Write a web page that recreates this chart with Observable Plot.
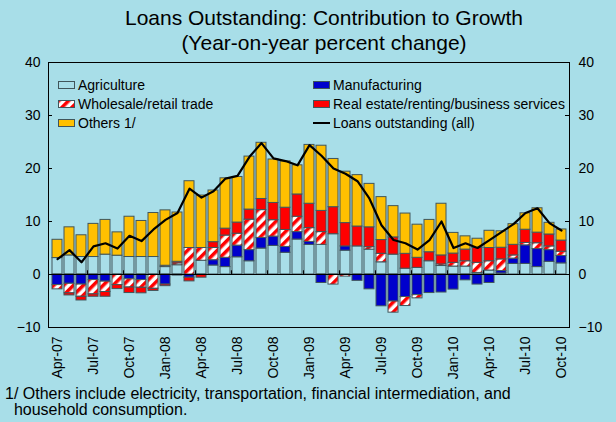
<!DOCTYPE html>
<html><head><meta charset="utf-8">
<script src="https://cdn.jsdelivr.net/npm/d3@7"></script>
<script src="https://cdn.jsdelivr.net/npm/@observablehq/plot@0.6"></script>
<style>
body{margin:0;background:#a8dee8;}
#wrap{position:relative;width:616px;height:422px;background:#a8dee8;font-family:"Liberation Sans",Arial,sans-serif;overflow:hidden;color:#000;}
#title{position:absolute;left:16px;top:5px;width:616px;text-align:center;font-size:21px;line-height:25px;z-index:2;}
#chart{position:absolute;left:0;top:0;}
.leg{position:absolute;font-size:14px;line-height:18px;height:18px;white-space:nowrap;display:flex;align-items:center;z-index:2;}
.leg svg{margin-right:2px;}
#note{position:absolute;left:5px;top:386px;font-size:16px;line-height:16px;z-index:2;white-space:nowrap;}
</style></head>
<body>
<svg width="0" height="0" style="position:absolute">
  <defs>
    <pattern id="hatch" patternUnits="userSpaceOnUse" width="7" height="7" patternTransform="rotate(45)">
      <rect width="7" height="7" fill="#ffffff"></rect>
      <rect width="3.5" height="7" fill="#ff0000"></rect>
    </pattern>
  </defs>
</svg>
<div id="wrap">
  <div id="title">Loans Outstanding: Contribution to Growth<br>(Year-on-year percent change)</div>
  <div id="chart"></div>
  <div id="legend"></div>
  <div id="note">1/ Others include electricity, transportation, financial intermediation, and<br>&nbsp;&nbsp;household consumption.</div>
</div>
<script>
const months = ["Apr-07","May-07","Jun-07","Jul-07","Aug-07","Sep-07","Oct-07","Nov-07","Dec-07",
  "Jan-08","Feb-08","Mar-08","Apr-08","May-08","Jun-08","Jul-08","Aug-08","Sep-08","Oct-08","Nov-08","Dec-08",
  "Jan-09","Feb-09","Mar-09","Apr-09","May-09","Jun-09","Jul-09","Aug-09","Sep-09","Oct-09","Nov-09","Dec-09",
  "Jan-10","Feb-10","Mar-10","Apr-10","May-10","Jun-10","Jul-10","Aug-10","Sep-10","Oct-10"];
const labelMonths = ["Apr-07","Jul-07","Oct-07","Jan-08","Apr-08","Jul-08","Oct-08","Jan-09","Apr-09","Jul-09","Oct-09","Jan-10","Apr-10","Jul-10","Oct-10"];
const tickMonths = ["Jul-07","Oct-07","Jan-08","Apr-08","Jul-08","Oct-08","Jan-09","Apr-09","Jul-09","Oct-09","Jan-10","Apr-10","Jul-10","Oct-10"];
const yTicks = [-10, 0, 10, 20, 30, 40];
const seriesNames = ["Agriculture","Manufacturing","Wholesale/retail trade","Real estate/renting/business services","Others 1/"];
const seriesColors = ["#a8dee8","#0000cc","url(#hatch)","#ff0000","#ffc000"];

const agriculture = [3.1,3.6,3.3,3.3,3.75,3.55,3.3,3.3,3.3,1.4,1.75,0,2.6,1.7,1.4,3.25,2.5,4.9,5.4,4.1,6.6,5.6,5.6,7.6,4.5,5.3,4.7,2.3,3.75,1.1,1.25,2.5,1.6,1.5,1.5,0.3,0.75,0.2,2.0,2.0,1.4,2.4,2.1];
const manufacturing = [-2.0,-1.75,-1.9,-1.05,-1.35,0,-0.9,-1.05,0,-1.9,-0.2,-0.6,0,1.0,1.75,2.2,2.1,2.0,1.75,1.1,1.4,0.55,-1.6,0,0.8,-1.2,-2.8,-6.0,-5.1,-4.25,-3.9,-3.5,-3.4,-2.85,-1.1,-1.9,-1.6,0.45,1.0,3.5,3.4,2.2,1.4];
const wholesale = [-0.8,-1.8,-2.3,-2.7,-1.95,-2.0,-1.55,-1.45,-2.7,0.25,0.35,5.0,2.4,2.3,4.2,2.25,5.75,5.25,3.1,3.2,2.9,2.6,2.4,-1.9,-0.4,0,0.45,1.6,-2.1,-1.7,-0.6,0,0.3,0.7,1.0,1.9,1.75,2.2,0.6,0.45,1.1,0.7,0.8];
const realEstate = [0,-0.4,-0.7,-0.45,-0.9,-0.75,-1.05,-1.05,-0.4,-0.3,0.3,-0.7,-0.6,1.1,1.3,2.1,1.9,2.1,3.25,4.2,4.2,4.6,4.0,5.1,4.4,3.75,3.75,2.6,3.25,2.8,1.9,1.7,1.7,1.75,2.2,2.8,2.5,2.2,2.0,2.5,2.0,2.25,2.1];
const others = [3.45,5.3,4.1,6.25,6.55,4.4,7.6,6.8,8.3,10.45,9.3,12.6,9.9,9.75,9.5,8.6,10.0,10.6,8.2,8.75,5.5,11.1,12.3,9.1,9.7,9.7,8.2,8.1,5.9,7.6,6.25,6.1,9.75,3.9,2.5,1.75,3.25,3.1,3.9,3.1,4.6,2.2,2.1];
const loansAll = [2.9,4.6,2.3,5.3,5.9,4.9,7.3,6.3,8.5,10.3,11.6,16.2,14.5,15.7,18.1,18.6,22.2,24.8,21.9,21.4,20.6,24.4,22.4,20.0,19.0,17.6,14.3,9.3,6.5,5.9,4.7,6.5,10.0,5.0,5.9,5.0,6.5,8.0,9.5,11.6,12.5,9.7,8.3];

const seriesValues = [agriculture, manufacturing, wholesale, realEstate, others];
const rows = [];
seriesNames.forEach((s, j) => months.forEach((m, i) => rows.push({month: m, series: s, value: seriesValues[j][i]})));
const lineRows = months.map((m, i) => ({month: m, value: loansAll[i]}));

const font = '"Liberation Sans", Arial, sans-serif';
const chart = Plot.plot({
  width: 616, height: 385,
  marginLeft: 48, marginRight: 47, marginTop: 62, marginBottom: 58,
  style: {background: "transparent", fontFamily: font, fontSize: "14px", color: "#000", overflow: "visible"},
  x: {type: "band", domain: months, paddingInner: 0.18, paddingOuter: 0.09, label: null},
  y: {domain: [-10, 40], label: null},
  color: {domain: seriesNames, range: seriesColors},
  marks: [
    Plot.barY(rows, Plot.stackY({x: "month", y: "value", fill: "series", stroke: "#40555a", strokeWidth: 1})),
    Plot.ruleY([0], {stroke: "#000", strokeWidth: 1.2}),
    Plot.ruleX(tickMonths, {x: d => d, y1: 0, y2: 0.7, dx: -6.06, stroke: "#000"}),
    Plot.line(lineRows, {x: "month", y: "value", stroke: "#000", strokeWidth: 2.2}),
    Plot.frame({stroke: "#000"}),
    Plot.tickY(yTicks, {y: d => d, insetRight: 517, stroke: "#000"}),
    Plot.tickY(yTicks, {y: d => d, insetLeft: 517, stroke: "#000"}),
    Plot.axisY({anchor: "left", ticks: yTicks, tickSize: 0, tickPadding: 8, fontSize: 14, label: null}),
    Plot.axisY({anchor: "right", ticks: yTicks, tickSize: 0, tickPadding: 9, fontSize: 14, label: null}),
    Plot.axisX({anchor: "bottom", ticks: labelMonths, tickRotate: -90, tickSize: 0, tickPadding: 9, fontSize: 14, label: null})
  ]
});
document.getElementById("chart").appendChild(chart);

// legend
const legendItems = [
  {name: seriesNames[0], kind: "rect", col: 0, row: 0, fill: seriesColors[0]},
  {name: seriesNames[2], kind: "rect", col: 0, row: 1, fill: seriesColors[2]},
  {name: seriesNames[4], kind: "rect", col: 0, row: 2, fill: seriesColors[4]},
  {name: seriesNames[1], kind: "rect", col: 1, row: 0, fill: seriesColors[1]},
  {name: seriesNames[3], kind: "rect", col: 1, row: 1, fill: seriesColors[3]},
  {name: "Loans outstanding (all)", kind: "line", col: 1, row: 2}
];
const colX = [58, 313], rowY = [76, 95, 114];
const leg = document.getElementById("legend");
legendItems.forEach(it => {
  const d = document.createElement("div");
  d.className = "leg";
  d.style.left = colX[it.col] + "px";
  d.style.top = rowY[it.row] + "px";
  const sw = it.kind === "rect"
    ? `<svg width="18" height="10"><rect x="0.5" y="1.5" width="16" height="7" fill="${it.fill}" stroke="#40555a" stroke-width="1"></rect></svg>`
    : `<svg width="18" height="10"><line x1="0" x2="17" y1="5" y2="5" stroke="#000" stroke-width="2"></line></svg>`;
  d.innerHTML = sw + `<span>${it.name}</span>`;
  leg.appendChild(d);
});
</script>
</body></html>
